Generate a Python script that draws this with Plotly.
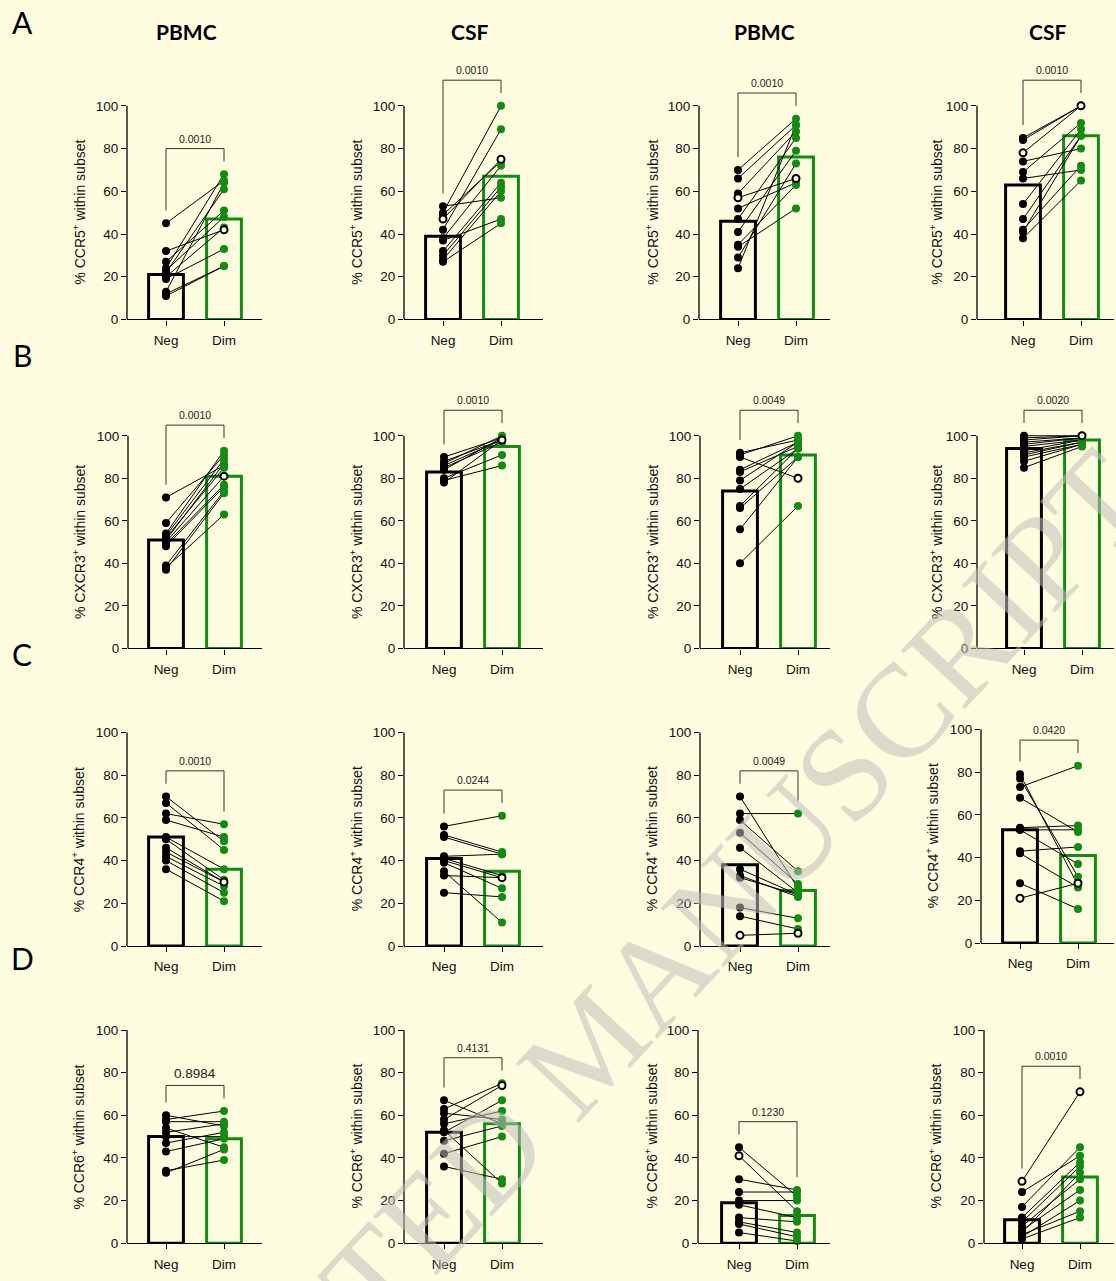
import plotly.graph_objects as go

# ---------------- data ----------------
group_labels = ["Neg", "Dim"]
col_headers = ["PBMC", "CSF", "PBMC", "CSF"]
row_letters = ["A", "B", "C", "D"]
receptors = ["CCR5", "CXCR3", "CCR4", "CCR6"]

# Row A : CCR5
a1_neg = [45, 32, 27, 24, 23, 22, 20, 19, 13, 12, 11]
a1_dim = [65, 42, 51, 68, 48, 61, 43, 33, 64, 25, 25]
a1_bars = [21, 47]
a1_open = (None, 1)
a1_p = "0.0010"

a2_neg = [53, 50, 49, 47, 42, 38, 37, 32, 30, 28, 27]
a2_dim = [57, 100, 74, 75, 89, 72, 47, 64, 62, 60, 45]
a2_bars = [39, 67]
a2_open = (3, 3)
a2_p = "0.0010"

a3_neg = [70, 66, 59, 57, 52, 47, 41, 35, 34, 29, 24]
a3_dim = [94, 91, 88, 66, 64, 85, 79, 63, 52, 73, 91]
a3_bars = [46, 76]
a3_open = (3, 3)
a3_p = "0.0010"

a4_neg = [85, 84, 78, 74, 69, 66, 54, 47, 42, 41, 38]
a4_dim = [100, 100, 100, 80, 92, 70, 89, 86, 72, 86, 65]
a4_bars = [63, 86]
a4_open = (2, 2)
a4_p = "0.0010"

# Row B : CXCR3
b1_neg = [71, 59, 54, 53, 52, 51, 50, 49, 48, 39, 38, 37]
b1_dim = [86, 91, 93, 89, 85, 87, 81, 77, 76, 74, 63, 73]
b1_bars = [51, 81]
b1_open = (None, 6)
b1_p = "0.0010"

b2_neg = [90, 88, 87, 86, 85, 84, 80, 79, 78]
b2_dim = [99, 98, 100, 98, 97, 99, 91, 86, 98]
b2_bars = [83, 95]
b2_open = (None, 3)
b2_p = "0.0010"

b3_neg = [92, 90, 91, 84, 83, 79, 75, 67, 66, 56, 40]
b3_dim = [98, 80, 100, 97, 95, 97, 94, 94, 90, 90, 67]
b3_bars = [74, 91]
b3_open = (None, 1)
b3_p = "0.0049"

b4_neg = [100, 99, 98, 97, 96, 95, 93, 92, 91, 90, 88, 85]
b4_dim = [100, 100, 100, 99, 99, 98, 98, 97, 97, 96, 96, 95]
b4_bars = [94, 98]
b4_open = (None, 1)
b4_p = "0.0020"

# Row C : CCR4
c1_neg = [70, 67, 62, 59, 51, 50, 46, 44, 42, 40, 36]
c1_dim = [49, 45, 57, 51, 36, 31, 30, 30, 28, 25, 21]
c1_bars = [51, 36]
c1_open = (None, 6)
c1_p = "0.0010"

c2_neg = [56, 52, 51, 42, 41, 40, 39, 35, 33, 25]
c2_dim = [61, 44, 43, 43, 33, 32, 27, 11, 32, 23]
c2_bars = [41, 35]
c2_open = (None, 5)
c2_p = "0.0244"

c3_neg = [70, 62, 59, 53, 46, 36, 33, 32, 18, 14, 5]
c3_dim = [27, 62, 35, 29, 25, 24, 23, 24, 13, 8, 6]
c3_bars = [38, 26]
c3_open = (10, 10)
c3_p = "0.0049"

c4_neg = [79, 77, 73, 68, 54, 53, 53, 43, 42, 28, 21]
c4_dim = [27, 31, 83, 52, 55, 37, 53, 45, 26, 16, 28]
c4_bars = [53, 41]
c4_open = (10, 10)
c4_p = "0.0420"

# Row D : CCR6
d1_neg = [60, 58, 57, 54, 52, 50, 47, 43, 34, 33]
d1_dim = [55, 62, 57, 45, 56, 50, 52, 49, 39, 44]
d1_bars = [50, 49]
d1_open = (None, None)
d1_p = "0.8984"

d2_neg = [67, 63, 61, 58, 56, 53, 52, 48, 42, 36]
d2_dim = [56, 75, 58, 74, 62, 28, 67, 55, 50, 30]
d2_bars = [52, 56]
d2_open = (None, 3)
d2_p = "0.4131"

d3_neg = [45, 41, 30, 24, 20, 18, 12, 10, 9, 5]
d3_dim = [22, 15, 25, 24, 20, 12, 10, 5, 3, 1]
d3_bars = [19, 13]
d3_open = (1, None)
d3_p = "0.1230"

d4_neg = [29, 24, 17, 12, 10, 8, 6, 5, 3, 4, 2]
d4_dim = [71, 41, 45, 38, 36, 30, 25, 33, 20, 15, 12]
d4_bars = [11, 31]
d4_open = (0, 0)
d4_p = "0.0010"

panels = [
    [(a1_neg, a1_dim, a1_bars, a1_open, a1_p), (a2_neg, a2_dim, a2_bars, a2_open, a2_p),
     (a3_neg, a3_dim, a3_bars, a3_open, a3_p), (a4_neg, a4_dim, a4_bars, a4_open, a4_p)],
    [(b1_neg, b1_dim, b1_bars, b1_open, b1_p), (b2_neg, b2_dim, b2_bars, b2_open, b2_p),
     (b3_neg, b3_dim, b3_bars, b3_open, b3_p), (b4_neg, b4_dim, b4_bars, b4_open, b4_p)],
    [(c1_neg, c1_dim, c1_bars, c1_open, c1_p), (c2_neg, c2_dim, c2_bars, c2_open, c2_p),
     (c3_neg, c3_dim, c3_bars, c3_open, c3_p), (c4_neg, c4_dim, c4_bars, c4_open, c4_p)],
    [(d1_neg, d1_dim, d1_bars, d1_open, d1_p), (d2_neg, d2_dim, d2_bars, d2_open, d2_p),
     (d3_neg, d3_dim, d3_bars, d3_open, d3_p), (d4_neg, d4_dim, d4_bars, d4_open, d4_p)],
]

# ---------------- layout geometry (pixels) ----------------
W, H = 1116, 1281
BG = "#FEFCDF"
GREEN = "#138A13"
FONT = "Liberation Sans, Arial, sans-serif"
HFONT = "Lato, Liberation Sans, sans-serif"

axis_px = [[127, 404, 699, 977], [128, 404, 700, 977], [127, 404, 700, 981], [127, 404, 698, 984]]
neg_px = [[166, 443, 738, 1023], [166, 444, 740, 1024], [166, 444, 740, 1020], [166, 444, 739, 1022]]
end_px = [262, 543, 830, 1114]
y0_px = [[321.5] * 4, [652.5] * 4, [952, 952, 952, 949], [1251] * 4]
y100_px = [[106.5] * 4, [438.5] * 4, [737, 737, 737, 734], [1036.5] * 4]
title_px = [[79, 356, 652, 936], [79, 356, 652, 936], [78, 356, 651, 932], [78, 356, 651, 935]]
header_px = [186, 469, 765, 1047]
letter_py = [22, 357, 658, 964]
SPACING = 58.0
YTOP = 125.0
p_size = {(3, 0): 13.5}

fig = go.Figure()
layout = {}
shapes = []
annotations = []

n = 0
for r in range(4):
    for c in range(4):
        n += 1
        neg, dim, bars, opn, ptxt = panels[r][c]
        xa = "x" if n == 1 else f"x{n}"
        ya = "y" if n == 1 else f"y{n}"
        xk = "xaxis" if n == 1 else f"xaxis{n}"
        yk = "yaxis" if n == 1 else f"yaxis{n}"

        ax, nx, ex = axis_px[r][c], neg_px[r][c], end_px[c]
        y0, y100 = y0_px[r][c], y100_px[r][c]
        scale = (y0 - y100) / 100.0
        ytop = y0 - YTOP * scale

        layout[xk] = dict(
            domain=[ax / W, ex / W],
            range=[-(nx - ax) / SPACING, (ex - nx) / SPACING],
            anchor=ya, showgrid=False, zeroline=False,
            showline=True, linecolor="black", linewidth=1.3,
            tickmode="array", tickvals=[0, 1], ticktext=group_labels,
            ticks="outside", ticklen=5, tickwidth=1.2, tickcolor="black",
            ticklabelstandoff=3,
            tickfont=dict(family=FONT, size=13.5, color="#111"),
            fixedrange=True,
        )
        layout[yk] = dict(
            domain=[1 - y0 / H, 1 - ytop / H],
            range=[0, YTOP], anchor=xa,
            showgrid=False, zeroline=False, showline=False,
            tickmode="array", tickvals=[0, 20, 40, 60, 80, 100],
            ticks="outside", ticklen=5, tickwidth=1.2, tickcolor="black",
            tickfont=dict(family=FONT, size=13.5, color="#111"),
            fixedrange=True,
        )
        # y-axis line from 0 to 100
        shapes.append(dict(type="line", xref=f"{xa} domain", yref=ya, x0=0, x1=0, y0=0, y1=100,
                           line=dict(color="black", width=1.3), layer="above"))

        # bars
        fig.add_trace(go.Bar(x=[0], y=[bars[0]], xaxis=xa, yaxis=ya, width=0.6,
                             marker=dict(color="rgba(0,0,0,0)", line=dict(color="black", width=3)),
                             showlegend=False, hoverinfo="skip"))
        fig.add_trace(go.Bar(x=[1], y=[bars[1]], xaxis=xa, yaxis=ya, width=0.6,
                             marker=dict(color="rgba(0,0,0,0)", line=dict(color=GREEN, width=3)),
                             showlegend=False, hoverinfo="skip"))

        # pair lines
        lx, ly = [], []
        for a, b in zip(neg, dim):
            lx += [0, 1, None]
            ly += [a, b, None]
        fig.add_trace(go.Scatter(x=lx, y=ly, xaxis=xa, yaxis=ya, mode="lines",
                                 line=dict(color="black", width=1), showlegend=False,
                                 hoverinfo="skip", cliponaxis=False))

        on, od = opn
        negf = [v for i, v in enumerate(neg) if i != on]
        dimf = [v for i, v in enumerate(dim) if i != od]
        fig.add_trace(go.Scatter(x=[0] * len(negf), y=negf, xaxis=xa, yaxis=ya, mode="markers",
                                 marker=dict(color="black", size=8), showlegend=False,
                                 cliponaxis=False))
        fig.add_trace(go.Scatter(x=[1] * len(dimf), y=dimf, xaxis=xa, yaxis=ya, mode="markers",
                                 marker=dict(color=GREEN, size=8), showlegend=False,
                                 cliponaxis=False))
        ox, oy = [], []
        if on is not None:
            ox.append(0); oy.append(neg[on])
        if od is not None:
            ox.append(1); oy.append(dim[od])
        if ox:
            fig.add_trace(go.Scatter(x=ox, y=oy, xaxis=xa, yaxis=ya, mode="markers",
                                     marker=dict(color=BG, size=7, line=dict(color="black", width=2)),
                                     showlegend=False, cliponaxis=False))

        # significance bracket
        top = max(max(neg), max(dim)) + 12
        legl = max(neg) + 6
        legr = max(dim) + 6
        fig.add_trace(go.Scatter(x=[0, 0, 1, 1], y=[legl, top, top, legr], xaxis=xa, yaxis=ya,
                                 mode="lines", line=dict(color="#333", width=1),
                                 showlegend=False, hoverinfo="skip", cliponaxis=False))
        annotations.append(dict(x=0.5, y=top, xref=xa, yref=ya, text=ptxt, showarrow=False,
                                xanchor="center", yanchor="bottom", yshift=2,
                                font=dict(family=FONT, size=p_size.get((r, c), 10.5), color="#222")))

        # y-axis title
        annotations.append(dict(x=title_px[r][c] / W, y=1 - ((y0 + y100) / 2) / H,
                                xref="paper", yref="paper", textangle=-90, showarrow=False,
                                xanchor="center", yanchor="middle",
                                text=f"% {receptors[r]}<sup>+</sup> within subset",
                                font=dict(family=FONT, size=14, color="#111")))

# column headers and row letters
for c in range(4):
    annotations.append(dict(x=header_px[c] / W, y=1 - 32 / H, xref="paper", yref="paper",
                            text=f"<b>{col_headers[c]}</b>", showarrow=False,
                            xanchor="center", yanchor="middle",
                            font=dict(family=HFONT, size=21, color="black")))
for r in range(4):
    annotations.append(dict(x=22 / W, y=1 - letter_py[r] / H, xref="paper", yref="paper",
                            text=row_letters[r], showarrow=False,
                            xanchor="center", yanchor="middle",
                            font=dict(family=HFONT, size=30, color="black")))

# watermark
annotations.append(dict(x=590 / W, y=1 - 1052 / H, xref="paper", yref="paper",
                        text="ACCEPTED MANUSCRIPT", showarrow=False, textangle=-47,
                        xanchor="center", yanchor="middle",
                        font=dict(family="Liberation Serif, serif", size=132,
                                  color="rgba(190,190,185,0.55)")))

fig.update_layout(
    width=W, height=H, margin=dict(l=0, r=0, t=0, b=0),
    paper_bgcolor=BG, plot_bgcolor=BG, barmode="overlay",
    showlegend=False, shapes=shapes, annotations=annotations,
    **layout,
)

fig.write_html("out.html", config={"displayModeBar": False})
